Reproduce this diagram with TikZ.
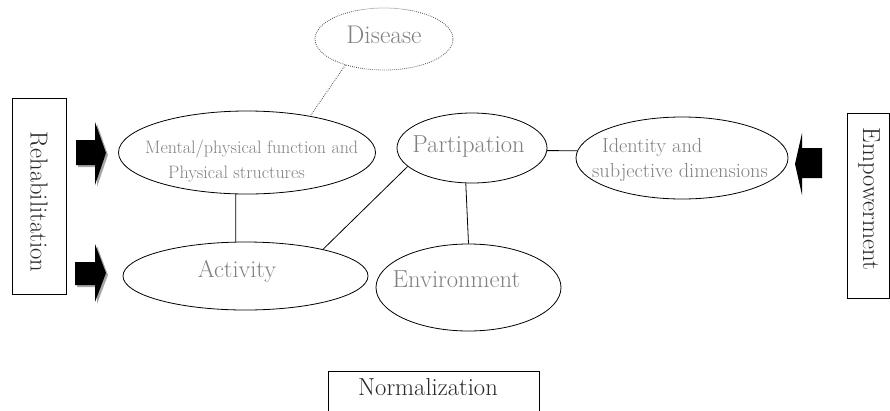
\documentclass[tikz,border=0pt]{standalone}
\usepackage{fontspec}
\usetikzlibrary{shapes.geometric}
\definecolor{txtgray}{RGB}{128,128,128}
\definecolor{txtdark}{RGB}{40,40,40}
\begin{document}
\begin{tikzpicture}[x=1pt,y=-1pt,
  ell/.style={draw, ellipse, line width=0.8pt, inner sep=0pt},
  lbl/.style={text=txtgray, inner sep=0pt, anchor=base, font=\fontsize{24.6}{28}\selectfont},
  sidebox/.style={draw, line width=0.8pt, inner sep=0pt, rectangle},
  sidetxt/.style={text=txtdark, inner sep=0pt, font=\fontsize{24.6}{28}\selectfont},
  conn/.style={line width=0.8pt},
  dotline/.style={line width=0.8pt, draw=black!70, dash pattern=on 0.8pt off 1.2pt},
  blockarrow/.style={fill=black},
  arrowshadow/.style={fill=black!35}]
\clip (0,0) rectangle (890,410);

% side boxes
\node[sidebox, minimum width=54pt, minimum height=196pt] (rehab) at (39,196) {};
\node[sidetxt, rotate=-90] (rehabT) at (39,202) {Rehabilitation};
\node[sidebox, minimum width=42pt, minimum height=185pt] (empow) at (868,205.5) {};
\node[sidetxt, rotate=-90] (empowT) at (869,199) {Empowerment};
\node[sidebox, minimum width=211pt, minimum height=70pt] (norm) at (433.5,406) {};
\node[sidetxt, anchor=base] (normT) at (428,395) {Normalization};

% ellipses
\node[ell, dotline, minimum width=138pt, minimum height=62pt] (dis) at (384,39) {};
\node[ell, minimum width=257pt, minimum height=83pt] (men) at (247,152.5) {};
\node[ell, minimum width=245pt, minimum height=68pt] (act) at (245.5,276) {};
\node[ell, minimum width=150pt, minimum height=70pt] (part) at (472,148) {};
\node[ell, minimum width=185pt, minimum height=87pt] (env) at (468.5,287.5) {};
\node[ell, minimum width=212pt, minimum height=82pt] (iden) at (682,158) {};

% labels
\node[lbl, font=\fontsize{25.5}{28}\selectfont] (disT) at (384,43) {Disease};
\node[lbl, font=\fontsize{24.3}{28}\selectfont] (actT) at (237,277) {Activity};
\node[lbl] (partT) at (468.5,152) {Partipation};
\node[lbl] (envT) at (456.5,287) {Environment};
\node[lbl, anchor=base west, align=left, font=\fontsize{18}{25}\selectfont] (menT) at (145,178)
  {Mental/physical function and\\\hspace*{23pt}Physical structures};
\node[lbl, anchor=base west, align=left, font=\fontsize{20.3}{25}\selectfont] (idenT) at (592,177)
  {\hspace*{10pt}Identity and\\subjective dimensions};

% connectors
\draw[dotline] (dis.214) -- (men.30);
\draw[conn] (men.255) -- (act.106);
\draw[conn] (act.19) -- (part.196);
\draw[conn] (part.260) -- (env.north);
\draw[conn] (part.358) -- (iden.176);

% block arrows
\fill[arrowshadow] (78,142) -- (97,142) -- (97,124) -- (108,155) -- (97,187) -- (97,167) -- (78,167) -- cycle;
\fill[blockarrow] (76,140) -- (95,140) -- (95,122) -- (106,153) -- (95,185) -- (95,165) -- (76,165) -- cycle;
\fill[arrowshadow] (77,264) -- (97,264) -- (97,246) -- (108,275) -- (97,304) -- (97,287) -- (77,287) -- cycle;
\fill[blockarrow] (75,262) -- (95,262) -- (95,244) -- (106,273) -- (95,302) -- (95,285) -- (75,285) -- cycle;
\fill[blockarrow] (822,148) -- (802,148) -- (802,133) -- (795,164) -- (802,195) -- (802,178) -- (822,178) -- cycle;
\end{tikzpicture}
\end{document}
